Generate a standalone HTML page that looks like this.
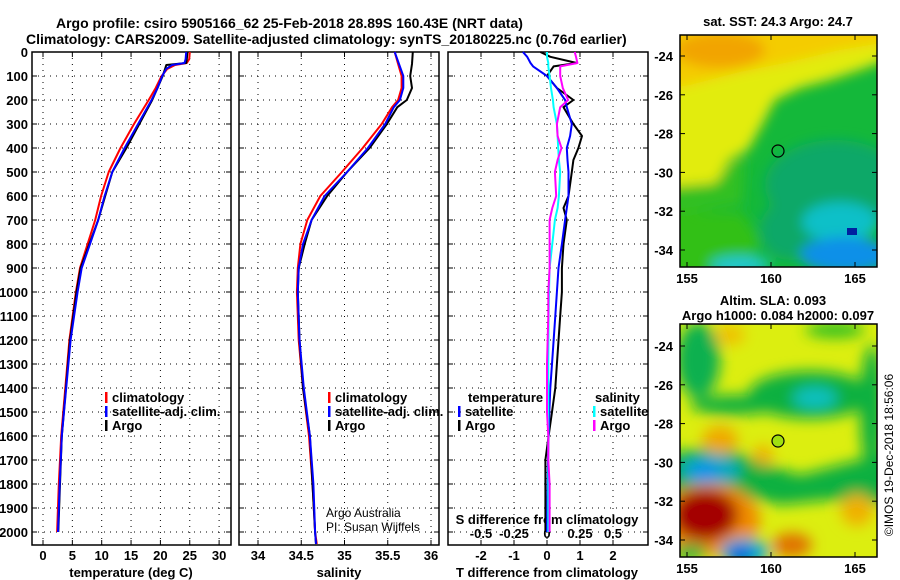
<!DOCTYPE html>
<html><head><meta charset="utf-8"><style>
html,body{margin:0;padding:0;background:#fff;}
svg{display:block;font-family:"Liberation Sans",sans-serif;}
.b{font-weight:bold;font-size:13px;}
</style></head><body>
<svg id="c" width="900" height="580" viewBox="0 0 900 580">
<defs>
<filter id="bl" filterUnits="userSpaceOnUse" x="600" y="0" width="300" height="600"><feGaussianBlur stdDeviation="6"/></filter>
<filter id="bl2" filterUnits="userSpaceOnUse" x="600" y="250" width="300" height="350"><feGaussianBlur stdDeviation="7"/></filter>
<clipPath id="m1"><rect x="680" y="35" width="197" height="232"/></clipPath>
<clipPath id="m2"><rect x="680" y="324" width="197" height="233"/></clipPath>
</defs>
<text class="b" x="56" y="28" style="font-size:14px">Argo profile: csiro 5905166_62 25-Feb-2018 28.89S 160.43E (NRT data)</text>
<text class="b" x="26" y="44" style="font-size:14px">Climatology: CARS2009. Satellite-adjusted climatology: synTS_20180225.nc (0.76d earlier)</text>

<g>
<text class="b" x="778" y="26" text-anchor="middle">sat. SST: 24.3 Argo: 24.7</text>
<g clip-path="url(#m1)">
<rect x="680" y="35" width="197" height="232" fill="#14b83a"/>
<g filter="url(#bl)">
<polygon points="660,15 900,15 900,55 860,70 830,80 800,88 775,100 762,125 748,150 730,160 715,185 660,190" fill="#e2ec10"/>
<polygon points="660,15 900,15 900,40 840,50 790,62 740,72 690,85 660,90" fill="#f4cc00"/>
<ellipse cx="720" cy="50" rx="45" ry="18" fill="#f2a400"/>
<polygon points="660,188 715,183 730,165 745,158 742,205 690,212 660,212" fill="#30c020"/>
<polygon points="670,212 742,212 760,240 745,280 670,280" fill="#30c018"/>
<ellipse cx="835" cy="185" rx="70" ry="45" fill="#10a868"/>
<ellipse cx="790" cy="230" rx="30" ry="30" fill="#10a868"/>
<ellipse cx="840" cy="222" rx="38" ry="20" fill="#10c0c8"/>
<ellipse cx="845" cy="255" rx="45" ry="18" fill="#0890e8"/>
<ellipse cx="740" cy="265" rx="30" ry="9" fill="#20c8d0"/>
</g>
<rect x="847" y="228" width="10" height="7" fill="#0020a0"/>
</g>
<rect x="680" y="35" width="197" height="232" fill="none" stroke="#000" stroke-width="1.5"/>
<circle cx="778" cy="151" r="6" fill="none" stroke="#000" stroke-width="1.2"/>
</g>

<g>
<text class="b" x="773" y="305" text-anchor="middle">Altim. SLA: 0.093</text>
<text class="b" x="778" y="320" text-anchor="middle">Argo h1000: 0.084 h2000: 0.097</text>
<g clip-path="url(#m2)">
<rect x="680" y="324" width="197" height="233" fill="#dcee10"/>
<g filter="url(#bl2)">
<ellipse cx="698" cy="360" rx="22" ry="38" fill="#10b050"/>
<ellipse cx="810" cy="395" rx="62" ry="24" fill="#10b040"/>
<ellipse cx="815" cy="398" rx="22" ry="11" fill="#10c0c0"/>
<ellipse cx="735" cy="405" rx="45" ry="10" fill="#10b040"/>
<ellipse cx="835" cy="330" rx="30" ry="8" fill="#30c020"/>
<polygon points="660,455 720,445 760,462 800,475 850,462 900,450 900,505 830,500 780,505 740,495 660,492" fill="#10b040"/>
<ellipse cx="710" cy="470" rx="30" ry="16" fill="#10a8c0"/>
<ellipse cx="705" cy="472" rx="14" ry="8" fill="#0890f0"/>
<ellipse cx="872" cy="410" rx="12" ry="65" fill="#10b040"/>
<ellipse cx="720" cy="440" rx="18" ry="14" fill="#f0a800"/>
<ellipse cx="763" cy="455" rx="10" ry="10" fill="#f0b000"/>
<ellipse cx="857" cy="510" rx="16" ry="16" fill="#f0b000"/>
<ellipse cx="730" cy="335" rx="15" ry="10" fill="#f0c000"/>
<ellipse cx="710" cy="520" rx="50" ry="36" fill="#f08a00"/>
<ellipse cx="705" cy="515" rx="33" ry="26" fill="#a40000"/>
<ellipse cx="792" cy="545" rx="20" ry="12" fill="#e07000"/>
<ellipse cx="745" cy="552" rx="25" ry="14" fill="#10b0d0"/>
<ellipse cx="740" cy="554" rx="14" ry="9" fill="#0060e0"/>
<ellipse cx="690" cy="552" rx="18" ry="8" fill="#10b040"/>
</g>
</g>
<rect x="680" y="324" width="197" height="233" fill="none" stroke="#000" stroke-width="1.5"/>
<circle cx="778" cy="441" r="6" fill="#a0e010" stroke="#000" stroke-width="1.2"/>
</g>
<text x="893" y="455" transform="rotate(-90 893 455)" text-anchor="middle" style="font-size:12px">©IMOS 19-Dec-2018 18:56:06</text>
<g id="dyn"></g>
</svg>
<script>
const depthT = [0,30,46,54,70,100,150,200,300,400,500,600,700,800,900,1000,1200,1400,1600,1800,2000];
const tempArgo = [24.6,24.5,24.4,21.0,20.8,20.4,19.5,18.6,16.4,14.2,11.8,10.6,9.4,7.9,6.4,5.7,4.6,3.9,3.2,2.9,2.6];
const tempClim = [25.0,24.9,24.5,22.5,21.2,20.2,19.2,18.0,15.5,13.2,11.2,9.9,8.9,7.6,6.3,5.6,4.5,3.8,3.1,2.7,2.4];
const tempSat  = [24.4,24.3,24.1,22.0,21.0,20.3,19.5,18.5,16.2,13.9,11.8,10.5,9.4,8.0,6.6,5.9,4.7,3.95,3.2,2.85,2.55];
const depthS = [0,50,100,150,200,230,300,400,500,600,700,800,900,1000,1200,1400,1600,1800,2000,2050];
const salArgo = [35.79,35.78,35.76,35.78,35.72,35.61,35.49,35.29,35.03,34.80,34.62,34.54,34.47,34.46,34.48,34.52,34.60,34.63,34.66,34.67];
const salClim = [35.58,35.62,35.66,35.66,35.62,35.55,35.43,35.21,34.97,34.72,34.57,34.49,34.46,34.45,34.47,34.52,34.59,34.63,34.66,34.68];
const salSat  = [35.58,35.63,35.68,35.68,35.64,35.57,35.47,35.27,35.03,34.77,34.62,34.52,34.47,34.46,34.48,34.53,34.60,34.64,34.66,34.67];
const depthD = [0,20,46,60,100,150,200,230,300,350,400,450,500,600,650,700,800,900,1000,1100,1300,1400,1500,1600,1700,1800,2000];
const tDiffArgo = [-0.2,0.1,0.9,0.2,0.0,0.3,0.8,0.5,0.8,1.06,0.95,0.8,0.75,0.65,0.5,0.6,0.5,0.45,0.45,0.4,0.3,0.25,0.15,0.05,-0.05,-0.05,-0.05];
const tDiffSat  = [-0.73,-0.6,-0.5,-0.42,0.0,0.3,0.55,0.6,0.75,0.7,0.6,0.62,0.65,0.65,0.6,0.55,0.45,0.35,0.3,0.25,0.15,0.1,0.07,0.05,0.03,0.02,0.0];
const sDiffArgo = [0.21,0.22,0.23,0.1,0.1,0.12,0.16,0.1,0.075,0.08,0.11,0.08,0.06,0.07,0.04,0.02,0.02,0.02,0.01,0.01,0.0,0.0,0.0,0.01,0.01,0.02,0.02];
const sDiffSat  = [0.0,0.0,0.01,0.01,0.02,0.03,0.045,0.05,0.075,0.08,0.085,0.09,0.1,0.09,0.08,0.06,0.04,0.02,0.015,0.012,0.01,0.01,0.01,0.01,0.01,0.01,0.01];
const depthTicks = [0,100,200,300,400,500,600,700,800,900,1000,1100,1200,1300,1400,1500,1600,1700,1800,1900,2000];
const tTicks = [0,5,10,15,20,25,30];
const sTicks = [34,34.5,35,35.5,36];
const sTickLabels = ["34","34.5","35","35.5","36"];
const tdTicks = [-2,-1,0,1,2];
const sdTicks = [-0.5,-0.25,0,0.25,0.5];
const sdTickLabels = ["-0.5","-0.25","0","0.25","0.5"];

const NS="http://www.w3.org/2000/svg";
const root=document.getElementById('dyn');
const Y = d => 52 + d*0.24;
const XT = v => 43 + v*5.87;
const XS = v => 258 + (v-34)*86.5;
const XTD = v => 547 + v*33;
const XSD = v => 547 + v*132;
function mk(tag, attrs, parent){const e=document.createElementNS(NS,tag);for(const k in attrs)e.setAttribute(k,attrs[k]);(parent||root).appendChild(e);return e;}
function frame(name){
  const g=mk('g',{});
  
  
  return g;
}
function grid(g,x0,x1,xs){
  depthTicks.forEach(d=>{ if(d>0){const l=mk('line',{x1:x0,x2:x1,y1:Y(d),y2:Y(d),stroke:'#000','stroke-dasharray':'1,5'},g);
    
    }
    mk('line',{x1:x0,x2:x0+5,y1:Y(d),y2:Y(d),stroke:'#000'},g);
    mk('line',{x1:x1,x2:x1-5,y1:Y(d),y2:Y(d),stroke:'#000'},g);});
  xs.forEach(x=>{const l=mk('line',{x1:x,x2:x,y1:52,y2:545,stroke:'#000','stroke-dasharray':'1,5'},g);
    
    
    mk('line',{x1:x,x2:x,y1:52,y2:57,stroke:'#000'},g);
    mk('line',{x1:x,x2:x,y1:545,y2:540,stroke:'#000'},g);});
  const r=mk('rect',{x:x0,y:52,width:x1-x0,height:493,fill:'none',stroke:'#000','stroke-width':1.5},g);
  
  
}
function line(g,depths,vals,X,color,w,name){
  const pts=depths.map((d,i)=>X(vals[i]).toFixed(1)+','+Y(d).toFixed(1)).join(' ');
  const p=mk('polyline',{points:pts,fill:'none',stroke:color,'stroke-width':w,'stroke-linejoin':'round'},g);
  
  
}
function text(g,x,y,s,anchor,name,cls,size){
  const t=mk('text',{x:x,y:y,'text-anchor':anchor||'start'},g);
  if(cls!==false) t.setAttribute('class','b');
  if(size) t.setAttribute('style','font-size:'+size+'px');
  t.textContent=s;
  
  
  return t;
}
function legend(g,x,y,color,label){
  mk('rect',{x:x,y:y-10,width:2.5,height:11,fill:color},g);
  text(g,x+7,y,label,'start','legend-entry');
}
const g1=frame('temperature-panel');
grid(g1,32,231,tTicks.map(XT));
depthTicks.forEach(d=>text(g1,28,Y(d)+5,String(d),'end','y-tick-label'));
tTicks.forEach(v=>text(g1,XT(v),560,String(v),'middle','x-tick-label'));
text(g1,131,577,'temperature (deg C)','middle','x-axis-title');
line(g1,depthT,tempClim,XT,'#ff0000',2,'temp-climatology-line');
line(g1,depthT,tempArgo,XT,'#000',2,'temp-argo-line');
line(g1,depthT,tempSat,XT,'#0000ff',2,'temp-satellite-line');
legend(g1,105,402,'#ff0000','climatology');
legend(g1,105,416,'#0000ff','satellite-adj. clim.');
legend(g1,105,430,'#000','Argo');
const g2=frame('salinity-panel');
grid(g2,239,439,sTicks.map(XS));
sTicks.forEach((v,i)=>text(g2,XS(v),560,sTickLabels[i],'middle','x-tick-label'));
text(g2,339,577,'salinity','middle','x-axis-title');
line(g2,depthS,salClim,XS,'#ff0000',2,'sal-climatology-line');
line(g2,depthS,salArgo,XS,'#000',2,'sal-argo-line');
line(g2,depthS,salSat,XS,'#0000ff',2,'sal-satellite-line');
legend(g2,328,402,'#ff0000','climatology');
legend(g2,328,416,'#0000ff','satellite-adj. clim.');
legend(g2,328,430,'#000','Argo');
text(g2,326,517,'Argo Australia','start','credit-line-1',false,12);
text(g2,326,531,'PI: Susan Wijffels','start','credit-line-2',false,12);
const g3=frame('difference-panel');
grid(g3,448,648,tdTicks.map(XTD));
tdTicks.forEach(v=>text(g3,XTD(v),560,String(v),'middle','t-diff-tick-label'));
sdTicks.forEach((v,i)=>text(g3,XSD(v),538,sdTickLabels[i],'middle','s-diff-tick-label'));
text(g3,547,524,'S difference from climatology','middle','s-diff-axis-title');
text(g3,547,577,'T difference from climatology','middle','t-diff-axis-title');
line(g3,depthD,tDiffArgo,XTD,'#000',2,'t-diff-argo-line');
line(g3,depthD,tDiffSat,XTD,'#0000ff',2,'t-diff-satellite-line');
line(g3,depthD,sDiffSat,XSD,'#00ffff',2,'s-diff-satellite-line');
line(g3,depthD,sDiffArgo,XSD,'#ff00ff',2,'s-diff-argo-line');
text(g3,468,402,'temperature','start','legend-heading-temperature');
legend(g3,458,416,'#0000ff','satellite');
legend(g3,458,430,'#000','Argo');
text(g3,595,402,'salinity','start','legend-heading-salinity');
legend(g3,593,416,'#00ffff','satellite');
legend(g3,593,430,'#ff00ff','Argo');
function mapAxes(yTop,yBot,lat0y){
  const g=mk('g',{});
  
  
  [-24,-26,-28,-30,-32,-34].forEach(l=>{const y=lat0y+(-24-l)*19.4;
    text(g,673,y+5,String(l),'end','lat-tick-label');
    mk('line',{x1:877,x2:872,y1:y,y2:y,stroke:'#000'},g);mk('line',{x1:680,x2:685,y1:y,y2:y,stroke:'#000'},g);});
  [155,160,165].forEach(lo=>{const x=687+(lo-155)*16.8;
    mk('line',{x1:x,x2:x,y1:yTop,y2:yTop+5,stroke:'#000'},g);mk('line',{x1:x,x2:x,y1:yBot,y2:yBot-5,stroke:'#000'},g);
    text(g,x,yBot+16,String(lo),'middle','lon-tick-label');});
}
mapAxes(35,267,56);
mapAxes(324,557,346);
</script>
</body></html>
